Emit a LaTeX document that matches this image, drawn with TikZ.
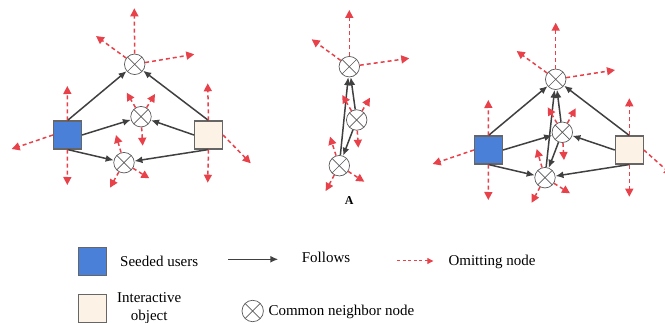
\documentclass[tikz,border=0pt]{standalone}
\usepackage{fontspec}
\setmainfont{Liberation Serif}
\usetikzlibrary{arrows.meta}

\definecolor{seedblue}{HTML}{4A80D8}
\definecolor{objbeige}{HTML}{FDF2E6}
\definecolor{omitred}{HTML}{E8414A}
\definecolor{edgegray}{HTML}{404040}
\definecolor{ringgray}{HTML}{5A5A5A}

\tikzset{
  seeduser/.style={rectangle, draw=black!60, line width=1.1pt, fill=seedblue,
    minimum size=28pt, inner sep=0pt},
  interobj/.style={rectangle, draw=black!60, line width=1.1pt, fill=objbeige,
    minimum size=28pt, inner sep=0pt},
  cnode/.style={circle, draw=ringgray, line width=0.7pt, fill=white,
    minimum size=20.5pt, inner sep=0pt,
    path picture={\draw[ringgray, line width=0.7pt]
      (path picture bounding box.north west) -- (path picture bounding box.south east)
      (path picture bounding box.north east) -- (path picture bounding box.south west);}},
  follow/.style={draw=edgegray, line width=1.5pt, -{Latex[length=8pt,width=7pt]}},
  leak/.style={draw=omitred, line width=1.5pt, dash pattern=on 4pt off 3pt,
    -{Triangle[length=8pt,width=8pt]}},
  legtext/.style={font=\fontsize{15}{18}\selectfont, inner sep=0pt},
}

\begin{document}
\begin{tikzpicture}[x=1pt, y=-1pt]
\useasboundingbox (0,0) rectangle (665,323);

% ---- left graph ----
\node[seeduser] (S1) at (67.5,135) {};
\node[interobj] (B1) at (208.5,135) {};
\node[cnode] (L1) at (134.7,64.3) {};
\node[cnode] (L2) at (141,116.7) {};
\node[cnode] (L3) at (124,162.7) {};

% ---- middle graph ----
\node[cnode] (M1) at (349.3,66.7) {};
\node[cnode] (M2) at (356.7,120) {};
\node[cnode] (M3) at (339.3,165.7) {};
\node[font=\fontsize{12}{14}\selectfont\bfseries] (lblA) at (349.3,201) {A};

% ---- right graph ----
\node[seeduser] (S2) at (488.5,150) {};
\node[interobj] (B2) at (629.3,150) {};
\node[cnode] (R1) at (555.7,79.3) {};
\node[cnode] (R2) at (562.3,132.3) {};
\node[cnode] (R3) at (545,177.7) {};

% follow relations
\draw[follow] (S1.north) -- (L1);
\draw[follow] (S1.east) -- (L2);
\draw[follow] (S1.south) -- (L3);
\draw[follow] (B1.north) -- (L1);
\draw[follow] (B1.west) -- (L2);
\draw[follow] (B1.south) -- (L3);

\draw[follow] (M2) -- (M1);
\draw[follow] (M3) -- (M1);
\draw[follow] (M2) -- (M3);

\draw[follow] (S2.north) -- (R1);
\draw[follow] (S2.east) -- (R2);
\draw[follow] (S2.south) -- (R3);
\draw[follow] (B2.north) -- (R1);
\draw[follow] (B2.west) -- (R2);
\draw[follow] (B2.south) -- (R3);
\draw[follow] (R2) -- (R1);
\draw[follow] (R3) -- (R1);
\draw[follow] (R2) -- (R3);

% omitted neighbours leaving each node
\foreach \src/\x/\y [count=\i] in {
  L1/134.3/8.3, L1/96/36, L1/194.3/54.3,
  L2/126.7/92.7, L2/155/94, L2/142.7/145.7,
  L3/116/135, L3/149.3/178.3, L3/110/187.7,
  S1.north/67.3/86, S1.south/67.3/185, S1.west/11.7/149,
  B1.north/207.7/83.3, B1.south/207.7/182.7, B1.east/250.7/163.3,
  M1/349.3/10, M1/311.7/39.3, M1/409.3/58.3,
  M2/342.3/95, M2/370/97.7, M2/358.3/147.7,
  M3/330/136.7, M3/364.3/181.7, M3/325.7/191,
  R1/555.7/22.7, R1/516.7/51, R1/615/70,
  R2/547.7/107.3, R2/575.7/108.3, R2/564/160,
  R3/536.7/149, R3/570/193.3, R3/531.7/202.7,
  S2.north/488.3/100, S2.south/488.3/200, S2.west/432.7/164,
  B2.north/629.3/98.3, B2.south/629.3/196.7, B2.east/672/175}
{
  \coordinate (o\i) at (\x,\y);
  \draw[leak] (\src) -- (o\i);
}

% ---- legend ----
\node[seeduser] (LS) at (92.5,261.7) {};
\node[legtext, anchor=west] (tS) at (120,261.7) {Seeded users};

\coordinate (fa) at (228.3,259.3);
\coordinate (fb) at (278.3,259.3);
\draw[follow] (fa) -- (fb);
\node[legtext, anchor=west] (tF) at (301.7,257.3) {Follows};

\coordinate (oa) at (397.3,261);
\coordinate (ob) at (433.3,261);
\draw[leak, line width=1pt, dash pattern=on 3pt off 2.5pt,
  -{Triangle[length=6pt,width=6pt]}] (oa) -- (ob);
\node[legtext, anchor=west] (tO) at (448.3,262.3) {Omitting node};

\node[interobj] (LB) at (92.5,308.3) {};
\node[legtext, align=center] (tI) at (149.2,308.5) {Interactive\\object};

\node[cnode, minimum size=21.4pt] (LC) at (252.7,311) {};
\node[legtext, anchor=west] (tC) at (268.3,312) {Common neighbor node};
\end{tikzpicture}
\end{document}
